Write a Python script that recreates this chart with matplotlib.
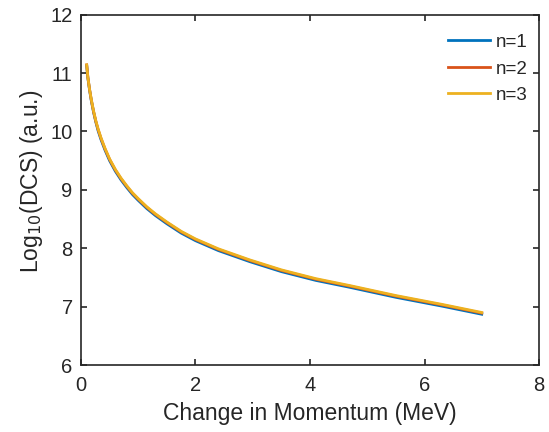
import matplotlib
matplotlib.use("Agg")
import matplotlib.pyplot as plt

plt.rcParams['font.family'] = ['Liberation Sans', 'DejaVu Sans']

x = [0.10, 0.12, 0.15, 0.18, 0.22, 0.26, 0.30, 0.35, 0.42, 0.50, 0.60, 0.70, 0.80, 0.90,
     1.00, 1.15, 1.30, 1.50, 1.75, 2.00, 2.40, 2.95, 3.50, 4.10, 4.70, 5.50, 6.30, 7.00]
n1 = [11.13, 10.92, 10.71, 10.53, 10.33, 10.16, 10.01, 9.86, 9.68, 9.50, 9.32, 9.17, 9.04, 8.92,
      8.82, 8.68, 8.56, 8.42, 8.26, 8.13, 7.96, 7.77, 7.60, 7.45, 7.33, 7.16, 7.01, 6.87]
n2 = [11.14, 10.93, 10.72, 10.54, 10.34, 10.17, 10.03, 9.88, 9.70, 9.52, 9.34, 9.19, 9.06, 8.94,
      8.84, 8.70, 8.58, 8.44, 8.28, 8.15, 7.98, 7.79, 7.62, 7.47, 7.35, 7.18, 7.03, 6.89]
n3 = [11.14, 10.93, 10.72, 10.55, 10.35, 10.18, 10.04, 9.89, 9.71, 9.53, 9.35, 9.20, 9.07, 8.95,
      8.85, 8.71, 8.59, 8.45, 8.29, 8.16, 7.99, 7.80, 7.63, 7.48, 7.36, 7.19, 7.04, 6.90]
labels = ['n=1', 'n=2', 'n=3']
colors = ['#0072BD', '#D95319', '#EDB120']

fig = plt.figure(figsize=(5.49, 4.32), dpi=100)
ax = fig.add_axes([0.1475, 0.155, 0.8343, 0.811])

for y, lab, c in zip([n1, n2, n3], labels, colors):
    ax.plot(x, y, color=c, lw=2, label=lab, solid_joinstyle='round')

ax.set_xlim(0, 8)
ax.set_ylim(6, 12)
ax.set_xticks([0, 2, 4, 6, 8])
ax.set_yticks([6, 7, 8, 9, 10, 11, 12])
tc = '#262626'
for s in ax.spines.values():
    s.set_color(tc)
    s.set_linewidth(1.2)
ax.tick_params(direction='in', top=True, right=True, length=4, width=1.2,
               colors=tc, labelsize=14.5)
ax.tick_params(axis='x', pad=8)
ax.tick_params(axis='y', pad=6)
ax.set_xlabel('Change in Momentum (MeV)', fontsize=16.5, color=tc, labelpad=5)
ax.set_ylabel('Log$_{10}$(DCS) (a.u.)', fontsize=16.5, color=tc)
ax.yaxis.set_label_coords(-0.078, 0.525)

leg = ax.legend(loc='upper right', frameon=False, fontsize=13.5, handlelength=2.2,
                handletextpad=0.35, labelspacing=0.5, borderaxespad=0.4,
                bbox_to_anchor=(1.009, 0.988))
for t in leg.get_texts():
    t.set_color(tc)

fig.savefig('out.png', dpi=100)
